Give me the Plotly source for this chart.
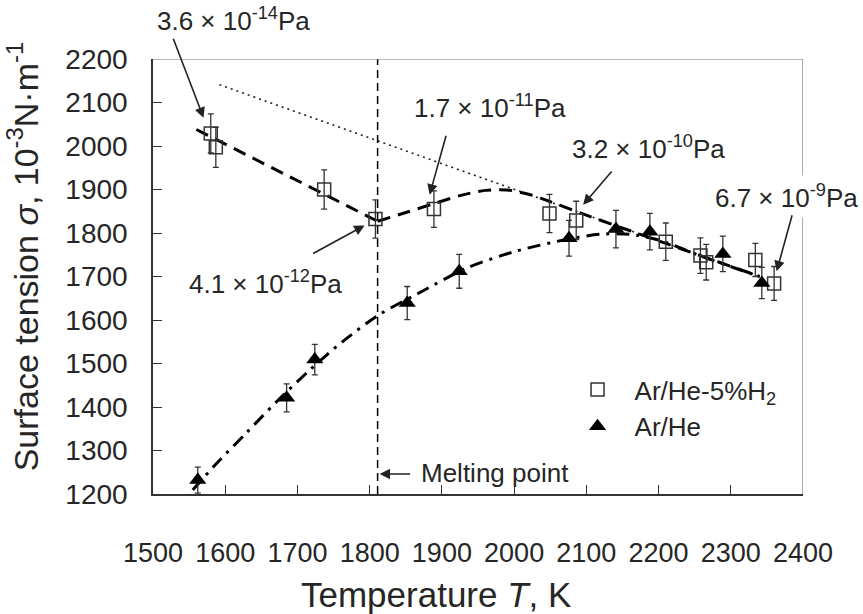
import plotly.graph_objects as go

# ---------------- data ----------------
sq_T = [1580, 1587, 1737, 1808, 1889, 2049, 2086, 2210, 2258, 2266, 2334, 2360]
sq_s = [2029, 1997, 1900, 1832, 1855, 1845, 1829, 1780, 1748, 1733, 1738, 1684]
sq_err = [45, 46, 45, 44, 42, 44, 44, 43, 41, 41, 38, 39]

tr_T = [1562, 1685, 1724, 1852, 1924, 2076, 2141, 2188, 2289, 2343]
tr_s = [1232, 1421, 1509, 1639, 1712, 1788, 1809, 1803, 1752, 1685]
tr_err = [30, 32, 35, 38, 39, 41, 43, 42, 41, 36]

# fitted curves
fitA_solid_T = [1560, 1811]
fitA_solid_s = [2038, 1827]
fitA_liq_T = [1811, 1850, 1890, 1925, 1960, 1990, 2020, 2050, 2100, 2200, 2340]
fitA_liq_s = [1827, 1847, 1868, 1886, 1898, 1899, 1889, 1872, 1841, 1782, 1700]

fitB_T = [1555, 1585, 1629, 1671, 1717, 1763, 1812, 1867, 1934, 2000, 2072, 2119, 2160, 2200, 2260, 2340]
fitB_s = [1209, 1265, 1340, 1412, 1485, 1551, 1611, 1661, 1719, 1757, 1785, 1797, 1797, 1784, 1746, 1700]

dot_T = [1592, 2340]
dot_s = [2141, 1700]

melting_T = 1811
x_ticks = list(range(1500, 2401, 100))
y_ticks = list(range(1200, 2201, 100))

FONT = "Liberation Sans, Arial, sans-serif"
TXT = "#262626"

fig = go.Figure()

# curves
fig.add_trace(go.Scatter(x=dot_T, y=dot_s, mode="lines", showlegend=False,
                         line=dict(color="#222", width=1.6, dash="2px,4px")))
fig.add_trace(go.Scatter(x=fitA_solid_T, y=fitA_solid_s, mode="lines", showlegend=False,
                         line=dict(color="black", width=3, dash="13px,8px")))
fig.add_trace(go.Scatter(x=fitA_liq_T, y=fitA_liq_s, mode="lines", showlegend=False,
                         line=dict(color="black", width=3, dash="13px,8px", shape="spline", smoothing=0.8)))
fig.add_trace(go.Scatter(x=fitB_T, y=fitB_s, mode="lines", showlegend=False,
                         line=dict(color="black", width=3, dash="13px,7px,3px,7px", shape="spline", smoothing=0.8)))

# data
fig.add_trace(go.Scatter(
    x=sq_T, y=sq_s, mode="markers", name="Ar/He-5%H<sub>2</sub>",
    marker=dict(symbol="square-open", size=13, color="#333", line=dict(width=1.5, color="#333")),
    error_y=dict(type="data", array=sq_err, visible=True, color="#333", thickness=1.3, width=3)))
fig.add_trace(go.Scatter(
    x=tr_T, y=tr_s, mode="markers", name="Ar/He",
    marker=dict(symbol="triangle-up", size=15, color="black"),
    error_y=dict(type="data", array=tr_err, visible=True, color="#333", thickness=1.3, width=3)))

# melting point line and top/right frame
shapes = [
    dict(type="line", xref="x", yref="y", x0=melting_T, x1=melting_T, y0=1200, y1=2200,
         line=dict(color="black", width=1.5, dash="8px,5px")),
    dict(type="line", xref="x", yref="y", x0=1500, x1=2400, y0=2200, y1=2200,
         line=dict(color="#777", width=1.2)),
    dict(type="line", xref="x", yref="y", x0=2400, x1=2400, y0=1200, y1=2200,
         line=dict(color="#777", width=1.2)),
]

annotations = []
# pressure labels
labels = [
    ("3.6 × 10<sup>-14</sup>Pa", 0.1239, 1.0909),
    ("1.7 × 10<sup>-11</sup>Pa", 0.5181, 0.8919),
    ("3.2 × 10<sup>-10</sup>Pa", 0.7629, 0.7961),
    ("6.7 × 10<sup>-9</sup>Pa", 0.9746, 0.6835),
    ("4.1 × 10<sup>-12</sup>Pa", 0.1732, 0.4856),
    ("Melting point", 0.5266, 0.0483),
]
for text, xp, yp in labels:
    annotations.append(dict(text=text, xref="paper", yref="paper", x=xp, y=yp,
                            xanchor="center", yanchor="middle", showarrow=False,
                            font=dict(family=FONT, size=26, color=TXT),
                            bgcolor="white" if text.startswith("6.7") else "rgba(0,0,0,0)",
                            borderpad=4))
# arrows: tip in data coordinates, tail as pixel offset
arrows = [
    (1570, 2065, -31, -81),
    (1883, 1888, 17, -61),
    (2095.6, 1865, 30, -35),
    (2363.5, 1712, 16, -58),
    (1793, 1817.5, -53, 29),
    (1813.8, 1246, 32, 0),
]
for x, y, ax, ay in arrows:
    annotations.append(dict(text=" ", x=x, y=y, xref="x", yref="y", ax=ax, ay=ay,
                            showarrow=True, arrowhead=2, arrowsize=1.3, arrowwidth=1.6,
                            arrowcolor="#222", standoff=0, font=dict(size=1)))

# axis titles
annotations.append(dict(text="Surface tension <i>σ</i>, 10<sup>-3</sup>N·m<sup>-1</sup>",
                        xref="paper", yref="paper", x=-0.1994, y=0.545, textangle=-90,
                        xanchor="center", yanchor="middle", showarrow=False,
                        font=dict(family=FONT, size=34, color=TXT)))
annotations.append(dict(text="Temperature <i>T</i>, K",
                        xref="paper", yref="paper", x=0.435, y=-0.232,
                        xanchor="center", yanchor="middle", showarrow=False,
                        font=dict(family=FONT, size=35, color=TXT)))

fig.update_layout(
    width=863, height=614,
    margin=dict(l=153, r=60, t=59, b=120),
    paper_bgcolor="white", plot_bgcolor="white",
    font=dict(family=FONT, color=TXT),
    shapes=shapes, annotations=annotations,
    legend=dict(x=0.627, y=0.294, xanchor="left", yanchor="top",
                bgcolor="rgba(0,0,0,0)", itemwidth=64, itemsizing="trace",
                font=dict(family=FONT, size=26, color=TXT), tracegroupgap=0),
    xaxis=dict(range=[1500, 2400], tickvals=x_ticks, ticks="inside", ticklen=9,
               tickwidth=1.3, tickcolor="#333", showline=True, linecolor="#333", linewidth=1.5,
               showgrid=False, zeroline=False, ticklabelstandoff=34,
               tickfont=dict(family=FONT, size=27, color=TXT)),
    yaxis=dict(range=[1200, 2200], tickvals=y_ticks, ticks="inside", ticklen=9,
               tickwidth=1.3, tickcolor="#333", showline=True, linecolor="#333", linewidth=1.5,
               showgrid=False, zeroline=False, ticklabelstandoff=18,
               tickfont=dict(family=FONT, size=28, color=TXT)),
)

fig.write_html("out.html", config={"displayModeBar": False},
               post_script="document.body.style.margin='0px';")
